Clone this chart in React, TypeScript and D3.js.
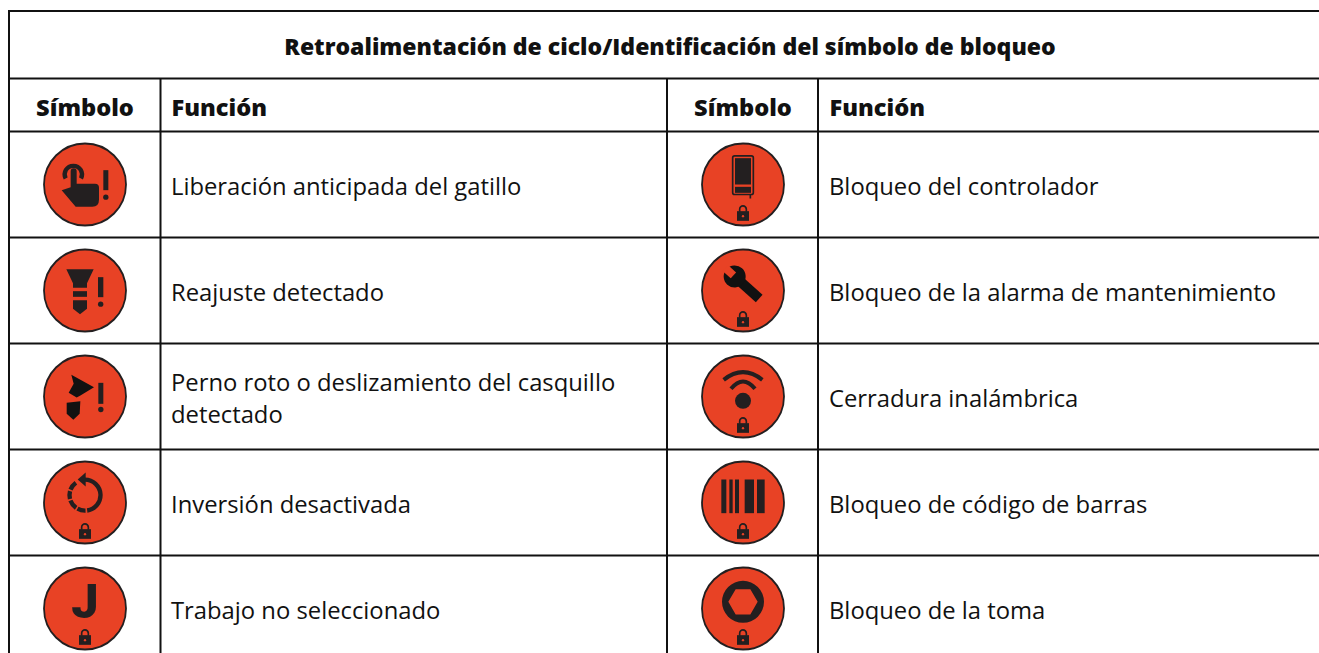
import React from 'react';
import * as d3 from 'd3';

const WIDTH = 1319;
const HEIGHT = 653;
const INK = '#231f20';
const RED = '#e84225';
const FONT = '"Open Sans", sans-serif';

const title = 'Retroalimentación de ciclo/Identificación del símbolo de bloqueo';
const headers = ['Símbolo', 'Función'];
const leftLabels = [
  ['Liberación anticipada del gatillo'],
  ['Reajuste detectado'],
  ['Perno roto o deslizamiento del casquillo', 'detectado'],
  ['Inversión desactivada'],
  ['Trabajo no seleccionado'],
];
const rightLabels = [
  ['Bloqueo del controlador'],
  ['Bloqueo de la alarma de mantenimiento'],
  ['Cerradura inalámbrica'],
  ['Bloqueo de código de barras'],
  ['Bloqueo de la toma'],
];
const leftIcons = ['trigger', 'rehit', 'broken', 'reverse', 'job'];
const rightIcons = ['controller', 'wrench', 'wifi', 'barcode', 'socket'];
const barcodeBars = [[-65, 15], [-41, 10], [-24, 12], [5, 28], [42, 23]];
// angles in degrees of the dashed part of the reverse arrow
const reverseDashes = [[0, 172], [178, 209], [215, 250], [256, 285], [291, 324]];

const rowY = d3.scaleLinear().domain([0, 5]).range([131.5, 661.5]);
const lineColumns = [160.5, 667, 818];

const Excl = ({ x, y, h, w = 14, dotY }: any) => (
  <g fill={INK}>
    <rect x={x} y={y} width={w} height={h} />
    <circle cx={x + w / 2} cy={dotY} r={8} />
  </g>
);

const Lock = () => (
  <g>
    <path d="M-10 82V74A10 10 0 0 1 10 74V82" fill="none" stroke={INK} strokeWidth={5} />
    <rect x={-18} y={80} width={36} height={29} fill={INK} />
    <circle cx={0} cy={95} r={3.5} fill={RED} />
  </g>
);

const reverseArc = d3.arc<number[]>()
  .innerRadius(40)
  .outerRadius(53)
  .startAngle((d) => (d[0] * Math.PI) / 180)
  .endAngle((d) => (d[1] * Math.PI) / 180);

// glyphs are drawn at 3x around the circle's centre
const glyphs: Record<string, () => React.ReactNode> = {
  trigger: () => (
    <g>
      <path d="M-58 -18A26 26 0 1 1 -12 -18" fill="none" stroke={INK} strokeWidth={13} />
      <path d="M-70 17L-43 8V-40A8 8 0 0 1 -25 -40V-2H30Q42 -2 42 10V45Q42 67 22 67H-28Z" fill={INK} />
      <Excl x={55} y={-43} h={60} w={15} dotY={38} />
    </g>
  ),
  rehit: () => (
    <g fill={INK}>
      <path d="M-56 -64H26L6 -22V-8H-36V-22Z" />
      <rect x={-36} y={2} width={42} height={17} />
      <path d="M-36 29H6V55L-15 71L-36 55Z" />
      <Excl x={39} y={-40} h={60} w={16} dotY={41} />
    </g>
  ),
  broken: () => (
    <g fill="#111">
      <path d="M-41 -65L27 -28L-15 -2L-25 3L-49 -11L-34 -38Z" />
      <path d="M-55 19L-14 14L-16 52L-35 70L-55 52Z" />
      <Excl x={40} y={-41} h={63} w={15} dotY={39} />
    </g>
  ),
  reverse: () => (
    <g fill={INK}>
      <g transform="translate(0,-22)">
        {reverseDashes.map((d, i) => <path key={i} d={reverseArc(d) ?? ''} />)}
      </g>
      <path d="M2 -90V-48L-22 -69Z" />
      <Lock />
    </g>
  ),
  job: () => (
    <g>
      <text x={0} y={29} textAnchor="middle" fontFamily="Roboto, sans-serif" fontWeight={900} fontSize={146} fill={INK}>J</text>
      <Lock />
    </g>
  ),
  controller: () => (
    <g>
      <rect x={-31} y={-86} width={62} height={116} rx={6} fill="none" stroke={INK} strokeWidth={5} />
      <rect x={-24} y={-79} width={48} height={79} fill={INK} />
      <rect x={-24} y={7} width={48} height={18} fill={INK} />
      <path d="M22 30V42" stroke={INK} strokeWidth={5} />
      <Lock />
    </g>
  ),
  wrench: () => (
    <g>
      <g transform="translate(-25,-42) rotate(42)" fill="#111">
        <rect x={0} y={-15} width={99} height={30} />
        <circle r={33} />
        <rect x={-38} y={-12} width={33} height={24} fill={RED} />
      </g>
      <Lock />
    </g>
  ),
  wifi: () => (
    <g>
      <path d="M-58 -50Q0 -96 58 -50" fill="none" stroke={INK} strokeWidth={12} />
      <path d="M-36 -23Q0 -67 36 -23" fill="none" stroke={INK} strokeWidth={12} />
      <circle cx={0} cy={13} r={24} fill={INK} />
      <Lock />
    </g>
  ),
  barcode: () => (
    <g>
      {barcodeBars.map(([x, w]) => <rect key={x} x={x} y={-69} width={w} height={101} fill={INK} />)}
      <Lock />
    </g>
  ),
  socket: () => (
    <g>
      <path
        transform="translate(0,-20)"
        fillRule="evenodd"
        fill={INK}
        d="M-63 0A63 63 0 1 1 63 0A63 63 0 1 1 -63 0ZM-44 0L-22 38H22L44 0L22 -38H-22Z"
      />
      <Lock />
    </g>
  ),
};

const Icon = ({ name, cx, cy }: { name: string; cx: number; cy: number }) => (
  <g transform={`translate(${cx},${cy})`}>
    <circle r={41} fill={RED} stroke={INK} strokeWidth={1.8} />
    <g transform="scale(0.3333)">{glyphs[name]()}</g>
  </g>
);

const App = () => {
  const rows = d3.range(5);
  return (
    <svg
      width={WIDTH}
      height={HEIGHT}
      style={{ position: 'absolute', left: 0, top: 0, display: 'block', background: '#fff' }}
      fontFamily={FONT}
      fill="#111"
    >
      <g stroke="#111" strokeWidth={2}>
        <line x1={8} x2={WIDTH} y1={11} y2={11} />
        <line x1={9} x2={9} y1={10} y2={HEIGHT} />
        <line x1={9} x2={WIDTH} y1={78.5} y2={78.5} />
        {d3.range(6).map((i) => (
          <line key={i} x1={9} x2={WIDTH} y1={rowY(i)} y2={rowY(i)} />
        ))}
        {lineColumns.map((x) => (
          <line key={x} x1={x} x2={x} y1={78.5} y2={HEIGHT} />
        ))}
      </g>

      <text x={670} y={55} textAnchor="middle" fontWeight={800} fontSize={23}>{title}</text>

      {[85, 743].map((x) => (
        <text key={x} x={x} y={116} textAnchor="middle" fontWeight={800} fontSize={23.6}>{headers[0]}</text>
      ))}
      {[171.5, 829.5].map((x) => (
        <text key={x} x={x} y={116} fontWeight={800} fontSize={23.6}>{headers[1]}</text>
      ))}

      {rows.map((i) => {
        const mid = (rowY(i) + rowY(i + 1)) / 2;
        return (
          <g key={i}>
            <Icon name={leftIcons[i]} cx={85} cy={mid} />
            <Icon name={rightIcons[i]} cx={743} cy={mid} />
            {[{ x: 171, lines: leftLabels[i] }, { x: 829, lines: rightLabels[i] }].map(({ x, lines }) =>
              lines.map((t, k) => (
                <text key={x + t} x={x} y={mid + 10 + (k - (lines.length - 1) / 2) * 32} fontSize={23.8}>{t}</text>
              ))
            )}
          </g>
        );
      })}
    </svg>
  );
};

export default App;
